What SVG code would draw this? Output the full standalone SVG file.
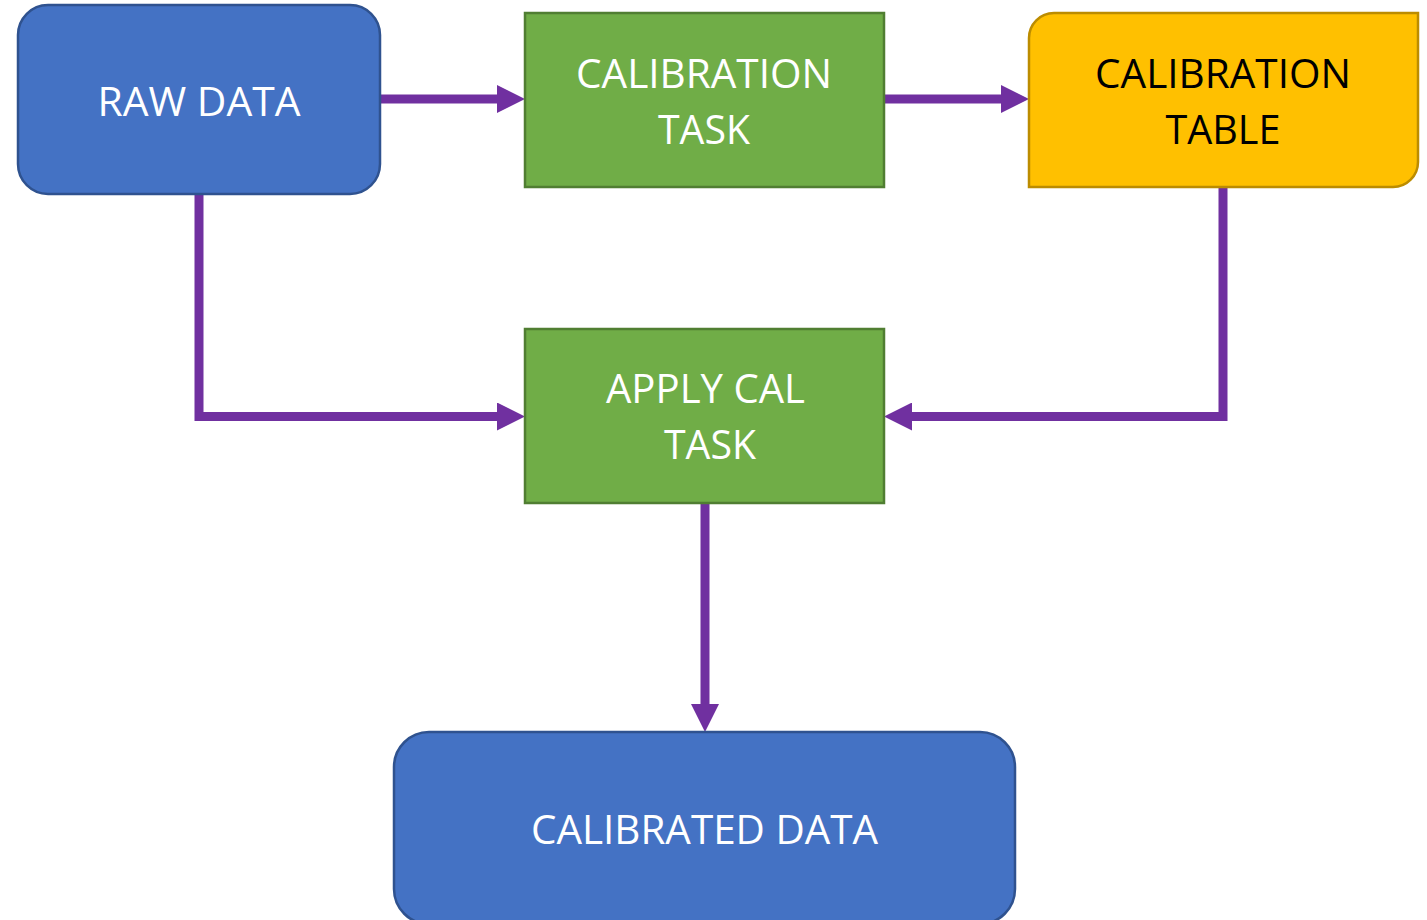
<svg xmlns="http://www.w3.org/2000/svg" width="1427" height="920" viewBox="0 0 1427 920">
  <style>
    .blue { fill: #4472C4; stroke: #2F528F; stroke-width: 2.5; }
    .green { fill: #70AD47; stroke: #507E32; stroke-width: 2.5; }
    .gold { fill: #FFC000; stroke: #BC8C00; stroke-width: 2.5; }
    .lbl { font-family: "Open Sans", "Liberation Sans", sans-serif; font-size: 40px; text-anchor: middle; }
    .w { fill: #FFFFFF; }
    .k { fill: #000000; }
    .conn { fill: none; stroke: #7030A0; stroke-width: 9; stroke-linejoin: miter; }
  </style>
  <defs>
    <marker id="arr" markerUnits="userSpaceOnUse" markerWidth="28" markerHeight="28" viewBox="0 0 28 28" refX="14" refY="14" orient="auto">
      <path d="M0,0 L28,14 L0,28 Z" fill="#7030A0"/>
    </marker>
  </defs>
  <rect width="1427" height="920" fill="#FFFFFF"/>

  <g id="connectors">
    <path class="conn" d="M380,99 H511" marker-end="url(#arr)"/>
    <path class="conn" d="M884,99 H1015" marker-end="url(#arr)"/>
    <path class="conn" d="M199,194 V416.5 H511" marker-end="url(#arr)"/>
    <path class="conn" d="M1223,187 V416.5 H898" marker-end="url(#arr)"/>
    <path class="conn" d="M705,503 V718" marker-end="url(#arr)"/>
  </g>

  <g id="raw-data">
    <rect class="blue" x="18" y="5" width="362" height="189" rx="30" ry="30"/>
    <text class="lbl w" x="199" y="116" textLength="203" lengthAdjust="spacingAndGlyphs">RAW DATA</text>
  </g>

  <g id="calibration-task">
    <rect class="green" x="525" y="13" width="359" height="174"/>
    <text class="lbl w" x="704" y="88" textLength="256" lengthAdjust="spacingAndGlyphs">CALIBRATION</text>
    <text class="lbl w" x="704" y="144" textLength="92" lengthAdjust="spacingAndGlyphs">TASK</text>
  </g>

  <g id="calibration-table">
    <path class="gold" d="M1054,13 H1418 V162 A25,25 0 0 1 1393,187 H1029 V38 A25,25 0 0 1 1054,13 Z"/>
    <text class="lbl k" x="1223" y="88" textLength="256" lengthAdjust="spacingAndGlyphs">CALIBRATION</text>
    <text class="lbl k" x="1223" y="144" textLength="115" lengthAdjust="spacingAndGlyphs">TABLE</text>
  </g>

  <g id="apply-cal-task">
    <rect class="green" x="525" y="329" width="359" height="174"/>
    <text class="lbl w" x="705.5" y="403" textLength="199" lengthAdjust="spacingAndGlyphs">APPLY CAL</text>
    <text class="lbl w" x="710" y="459" textLength="92" lengthAdjust="spacingAndGlyphs">TASK</text>
  </g>

  <g id="calibrated-data">
    <rect class="blue" x="394" y="732" width="621" height="192" rx="35" ry="35"/>
    <text class="lbl w" x="704.5" y="844" textLength="347" lengthAdjust="spacingAndGlyphs">CALIBRATED DATA</text>
  </g>
</svg>
